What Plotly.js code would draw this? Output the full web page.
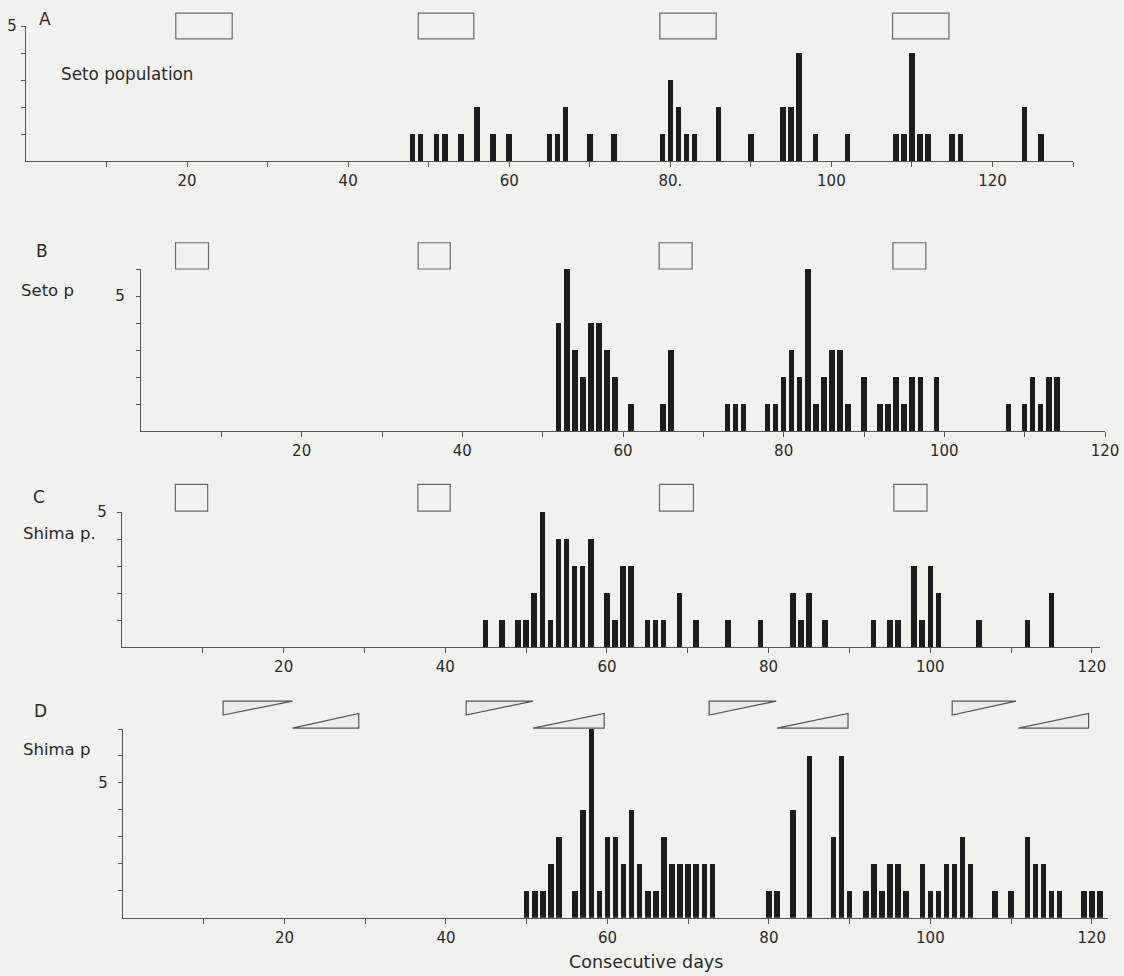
<!DOCTYPE html>
<html>
<head>
<meta charset="utf-8">
<script src="https://cdn.plot.ly/plotly-3.0.1.min.js"></script>
<style>html,body{margin:0;padding:0;background:#f1f1ee;}</style>
</head>
<body>
<div id="chart" style="width:1124px;height:976px;"></div>
<script>
// ---------- data ----------
const daysA   = [48,49,51,52,54,56,58,60,65,66,67,70,73,79,80,81,82,83,86,90,94,95,96,98,102,108,109,110,111,112,115,116,124,126];
const countsA = [ 1, 1, 1, 1, 1, 2, 1, 1, 1, 1, 2, 1, 1, 1, 3, 2, 1, 1, 2, 1, 2, 2, 4, 1,  1,  1,  1,  4,  1,  1,  1,  1,  2,  1];

const daysB   = [52,53,54,55,56,57,58,59,61,65,66,73,74,75,78,79,80,81,82,83,84,85,86,87,88,90,92,93,94,95,96,97,99,108,110,111,112,113,114];
const countsB = [ 4, 6, 3, 2, 4, 4, 3, 2, 1, 1, 3, 1, 1, 1, 1, 1, 2, 3, 2, 6, 1, 2, 3, 3, 1, 2, 1, 1, 2, 1, 2, 2, 2,  1,  1,  2,  1,  2,  2];

const daysC   = [45,47,49,50,51,52,53,54,55,56,57,58,60,61,62,63,65,66,67,69,71,75,79,83,84,85,87,93,95,96,98,99,100,101,106,112,115];
const countsC = [ 1, 1, 1, 1, 2, 5, 1, 4, 4, 3, 3, 4, 2, 1, 3, 3, 1, 1, 1, 2, 1, 1, 1, 2, 1, 2, 1, 1, 1, 1, 3, 1,  3,  2,  1,  1,  2];

const daysD   = [50,51,52,53,54,56,57,58,59,60,61,62,63,64,65,66,67,68,69,70,71,72,73,80,81,83,85,88,89,90,92,93,94,95,96,97,99,100,101,102,103,104,105,108,110,112,113,114,115,116,119,120,121];
const countsD = [ 1, 1, 1, 2, 3, 1, 4, 7, 1, 3, 3, 2, 4, 2, 1, 1, 3, 2, 2, 2, 2, 2, 2, 1, 1, 4, 6, 3, 6, 1, 1, 2, 1, 2, 2, 1, 2,  1,  1,  2,  2,  3,  2,  1,  1,  3,  2,  2,  1,  1,  1,  1,  1];

// moon-phase markers (days)
const boxStartA = [18.6, 48.7, 78.7, 107.6];
const boxEndA   = [25.6, 55.6, 85.7, 114.6];
const boxStartB = [4.3, 34.5, 64.5, 93.6];
const boxEndB   = [8.4, 38.5, 68.6, 97.7];
const boxStartC = [6.6, 36.6, 66.5, 95.5];
const boxEndC   = [10.6, 40.6, 70.7, 99.6];
const waneStartD = [12.4, 42.5, 72.6, 102.7];
const waneEndD   = [21.0, 50.8, 80.9, 110.6];
const waxStartD  = [21.0, 50.8, 81.0, 110.9];
const waxEndD    = [29.2, 59.6, 89.8, 119.6];

// tick labels
const xTicksA = [10,20,30,40,50,60,70,80,90,100,110,120,130];
const xTextA  = ['','20','','40','','60','','80.','','100','','120',''];
const xTicks  = [10,20,30,40,50,60,70,80,90,100,110,120];
const xText   = ['','20','','40','','60','','80','','100','','120'];

// ---------- layout helpers ----------
const W = 1124, H = 976;
const px = v => v / W;
const py = v => 1 - v / H;
const ink = '#1c1c1c';
const axisCol = '#555';
const FONT = 'DejaVu Sans, sans-serif';

function xAxis(left, right, range, tv, tt) {
  return {
    domain: [px(left), px(right)], range: range, tickvals: tv, ticktext: tt,
    ticks: 'outside', ticklen: 5, tickwidth: 1, tickcolor: axisCol,
    showline: true, linecolor: axisCol, linewidth: 1.2,
    showgrid: false, zeroline: false, fixedrange: true,
    tickfont: {family: FONT, size: 15, color: '#2a2a2a'}, ticklabelstandoff: 1
  };
}
function yAxis(bottom, top, maxv, standoff) {
  const tv = [], tt = [];
  for (let i = 1; i <= maxv; i++) { tv.push(i); tt.push(i === 5 ? '5' : ''); }
  return {
    domain: [py(bottom), py(top)], range: [0, maxv], tickvals: tv, ticktext: tt,
    ticks: 'outside', ticklen: 4, tickwidth: 1, tickcolor: axisCol,
    showline: true, linecolor: axisCol, linewidth: 1.2,
    showgrid: false, zeroline: false, fixedrange: true,
    tickfont: {family: FONT, size: 15, color: '#2a2a2a'}, ticklabelstandoff: standoff
  };
}

function barTrace(x, y, xa, ya) {
  return {type: 'bar', x: x, y: y, xaxis: xa, yaxis: ya, width: 0.68,
          marker: {color: ink, line: {width: 0}}, hoverinfo: 'x+y'};
}

const traces = [
  barTrace(daysA, countsA, 'x', 'y'),
  barTrace(daysB, countsB, 'x2', 'y2'),
  barTrace(daysC, countsC, 'x3', 'y3'),
  barTrace(daysD, countsD, 'x4', 'y4')
];

const shapes = [];
function boxes(starts, ends, xr, yr, y0, y1) {
  starts.forEach((s, i) => shapes.push({
    type: 'rect', xref: xr, yref: yr + ' domain', x0: s, x1: ends[i], y0: y0, y1: y1,
    line: {color: '#6a6a6a', width: 1.2}, fillcolor: 'rgba(0,0,0,0)', layer: 'above'
  }));
}
boxes(boxStartA, boxEndA, 'x', 'y', 0.904, 1.096);
boxes(boxStartB, boxEndB, 'x2', 'y2', 1.0, 1.162);
boxes(boxStartC, boxEndC, 'x3', 'y3', 1.007, 1.205);

waneStartD.forEach((s, i) => {
  const e = waneEndD[i];
  shapes.push({type: 'path', xref: 'x4', yref: 'y4 domain',
    path: `M${s},1.148 L${e},1.148 L${s},1.074 Z`,
    line: {color: '#555', width: 1.2}, fillcolor: 'rgba(0,0,0,0.02)'});
});
waxStartD.forEach((s, i) => {
  const e = waxEndD[i];
  shapes.push({type: 'path', xref: 'x4', yref: 'y4 domain',
    path: `M${s},1.005 L${e},1.005 L${e},1.082 Z`,
    line: {color: '#555', width: 1.2}, fillcolor: 'rgba(0,0,0,0.02)'});
});

function note(text, x, y, size, anchor) {
  return {text: text, xref: 'paper', yref: 'paper', x: px(x), y: py(y),
          xanchor: anchor || 'center', yanchor: 'middle', showarrow: false,
          font: {family: FONT, size: size, color: '#2a2a2a'}};
}
const annotations = [
  note('A', 45, 19, 17),
  note('Seto population', 59, 74, 16.8, 'left'),
  note('B', 42, 251, 17),
  note('Seto p', 19, 290, 16.5, 'left'),
  note('C', 39, 497, 17),
  note('Shima p.', 21, 533, 16.5, 'left'),
  note('D', 40, 711, 17),
  note('Shima p', 21, 749, 16.5, 'left'),
  note('Consecutive days', 646, 962, 17.5)
];

const layout = {
  width: W, height: H, margin: {l: 0, r: 0, t: 0, b: 0},
  paper_bgcolor: '#f1f1ee', plot_bgcolor: 'rgba(0,0,0,0)',
  showlegend: false, bargap: 0,
  xaxis:  Object.assign(xAxis(26, 1073, [0, 130], xTicksA, xTextA), {anchor: 'y'}),
  yaxis:  Object.assign(yAxis(161, 26, 5, 1), {anchor: 'x'}),
  xaxis2: Object.assign(xAxis(141, 1105, [0, 120], xTicks, xText), {anchor: 'y2'}),
  yaxis2: Object.assign(yAxis(431, 269, 6, 8), {anchor: 'x2'}),
  xaxis3: Object.assign(xAxis(122, 1100, [0, 121], xTicks, xText), {anchor: 'y3'}),
  yaxis3: Object.assign(yAxis(647, 512, 5, 7), {anchor: 'x3'}),
  xaxis4: Object.assign(xAxis(123, 1108, [0, 122], xTicks, xText), {anchor: 'y4'}),
  yaxis4: Object.assign(yAxis(917.7, 729, 7, 7), {anchor: 'x4'}),
  shapes: shapes,
  annotations: annotations
};

Plotly.newPlot('chart', traces, layout, {displayModeBar: false, staticPlot: true});
</script>
</body>
</html>
